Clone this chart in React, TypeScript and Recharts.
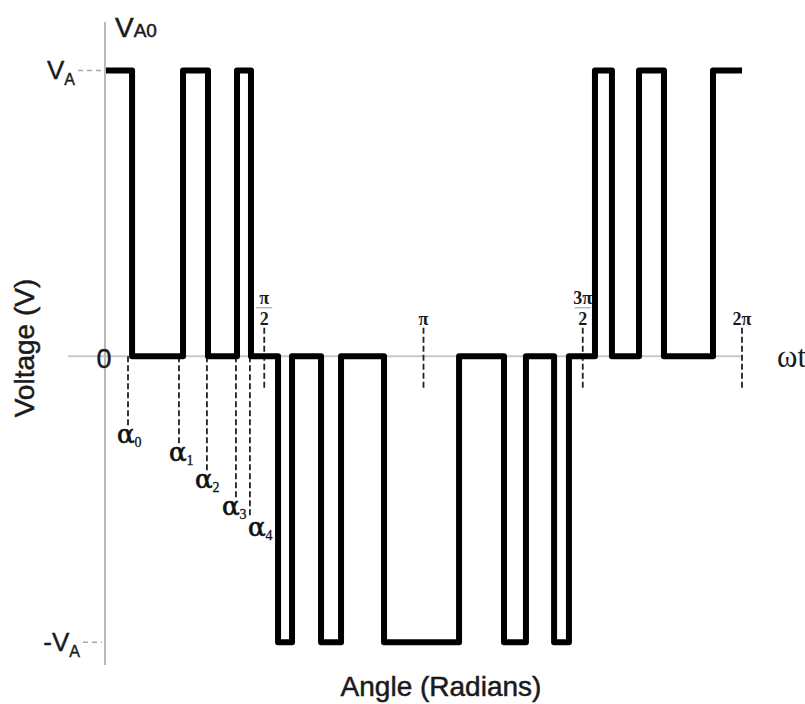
import React from 'react';
import { LineChart, Line, XAxis, YAxis, ReferenceLine, ReferenceDot, Customized } from 'recharts';

// switching instants of the phase voltage, in degrees (0..360 = 0..2π)
const SWITCH_ANGLES = [0, 15.3, 44.1, 58.2, 74.6, 82.5, 97.8, 105.7, 122.1, 133.4, 157.7, 200.1, 225.5, 237.9, 253.8, 262.2, 276.9, 286.5, 301.8, 315.9, 343.6, 360];
// level after each instant, in units of V_A
const SWITCH_LEVELS = [1, 0, 1, 0, 1, 0, -1, 0, -1, 0, -1, 0, -1, 0, -1, 0, 1, 0, 1, 0, 1, 1];
// switching angles that are marked under the axis
const ALPHA_ANGLES = [13, 41.8, 57.6, 74, 81.9];
// π marks on the angle axis
const PI_MARKS = [90, 180, 270, 360];
const PI_LABELS = [['π', '2'], ['π'], ['3π', '2'], ['2π']];
const Y_TICKS = [-1, 0, 1];

const data = SWITCH_ANGLES.map((a, i) => ({ angle: a, v: SWITCH_LEVELS[i] }));

// how far each α guide drops below zero (in V_A units), and a small x nudge for its label
const alphaDrop = [0.241, 0.304, 0.399, 0.493, 0.566];
const alphaNudge = [-11, -10, -12, -14, -2];

const SANS = 'Liberation Sans, Arial, sans-serif';
const SERIF = 'Liberation Serif, Times New Roman, serif';

const VoltTick = (props: any) => {
  const { x, y, payload } = props;
  const v = payload.value;
  if (v === 0) {
    return (
      <text x={x - 1} y={y + 12} textAnchor="middle" fontSize={27} fontFamily={SANS} fill="#1a1a1a" stroke="#1a1a1a" strokeWidth={0.4}>0</text>
    );
  }
  const dashStart = v > 0 ? x - 27 : x - 22;
  return (
    <g>
      <line x1={dashStart} x2={x - 3} y1={y} y2={y} stroke="#a8a8a8" strokeWidth={1.5} strokeDasharray="5 4" />
      <text x={dashStart - 3} y={y + (v > 0 ? 8 : 9)} textAnchor="end" fontSize={26} fontFamily={SANS} fill="#1a1a1a" stroke="#1a1a1a" strokeWidth={0.4}>
        {v < 0 ? '-' : ''}V<tspan fontSize={16} dy={6}>A</tspan>
      </text>
    </g>
  );
};

const AlphaLabel = ({ cx, cy, i }: any) => (
  <text x={cx + alphaNudge[i]} y={cy + 18} fontSize={26} fontFamily="DejaVu Serif, serif" fill="#111" stroke="#111" strokeWidth={0.7}>
    α<tspan fontSize={14} fontFamily={SERIF} strokeWidth={0.3} dy={4}>{i}</tspan>
  </text>
);

const PiLabel = ({ cx, cy, parts }: any) => {
  const common = { textAnchor: 'middle' as const, fontSize: 18, fontWeight: 'bold', fontFamily: SERIF, fill: '#1a1a1a' };
  if (parts.length === 1) {
    return <text x={cx} y={cy - 3} {...common}>{parts[0]}</text>;
  }
  return (
    <g>
      <text x={cx} y={cy - 24} {...common}>{parts[0]}</text>
      <line x1={cx - 8} x2={cx + 8} y1={cy - 20} y2={cy - 20} stroke="#777" strokeWidth={0.8} />
      <text x={cx} y={cy - 3} {...common}>{parts[1]}</text>
    </g>
  );
};

const Titles = () => {
  const sans = { fontFamily: SANS, fill: '#1a1a1a', stroke: '#1a1a1a', strokeWidth: 0.5 };
  return (
    <g>
      <text x={115} y={37} fontSize={28} {...sans}>
        V<tspan fontSize={19}>A0</tspan>
      </text>
      <text transform="translate(34,348) rotate(-90)" textAnchor="middle" fontSize={28} {...sans}>
        Voltage (V)
      </text>
      <text x={441} y={696} textAnchor="middle" fontSize={28} {...sans}>Angle (Radians)</text>
      <text x={777} y={367} fontSize={31} fontFamily={SERIF} fill="#1a1a1a">ωt</text>
    </g>
  );
};

const App = () => {
  return (
    <div style={{ position: 'absolute', left: 0, top: 0, width: 805, height: 704, background: '#fff' }}>
      <LineChart width={805} height={704} data={data} margin={{ top: 22, right: 63, bottom: 39, left: 0 }}>
        <XAxis type="number" dataKey="angle" domain={[0, 360]} allowDataOverflow hide />
        <YAxis
          type="number"
          domain={[-1.08, 1.17]}
          allowDataOverflow
          ticks={Y_TICKS}
          interval={0}
          width={105}
          axisLine={{ stroke: '#b9b9b9', strokeWidth: 2 }}
          tickLine={false}
          tickSize={0}
          tickMargin={0}
          tick={<VoltTick />}
        />
        <ReferenceLine segment={[{ x: -21, y: 0 }, { x: 360, y: 0 }]} stroke="#c9c9c9" strokeWidth={2} ifOverflow="visible" />
        {PI_MARKS.map((m) => (
          <ReferenceLine key={'pm' + m} segment={[{ x: m, y: 0.1 }, { x: m, y: -0.11 }]} stroke="#222" strokeWidth={1.8} strokeDasharray="6 3" ifOverflow="visible" />
        ))}
        {ALPHA_ANGLES.map((a, i) => (
          <ReferenceLine key={'al' + i} segment={[{ x: a, y: 0 }, { x: a, y: -alphaDrop[i] }]} stroke="#222" strokeWidth={1.8} strokeDasharray="6 3" ifOverflow="visible" />
        ))}
        <Line type="stepAfter" dataKey="v" stroke="#000" strokeWidth={6} strokeLinejoin="round" strokeLinecap="round" dot={false} isAnimationActive={false} />
        {ALPHA_ANGLES.map((a, i) => (
          <ReferenceDot key={'ad' + i} x={a} y={-alphaDrop[i]} r={0} ifOverflow="visible" shape={(p: any) => <AlphaLabel cx={p.cx} cy={p.cy} i={i} />} />
        ))}
        {PI_MARKS.map((m, i) => (
          <ReferenceDot key={'pd' + m} x={m} y={0.1} r={0} ifOverflow="visible" shape={(p: any) => <PiLabel cx={p.cx} cy={p.cy} parts={PI_LABELS[i]} />} />
        ))}
        <Customized component={Titles} />
      </LineChart>
    </div>
  );
};

export default App;
